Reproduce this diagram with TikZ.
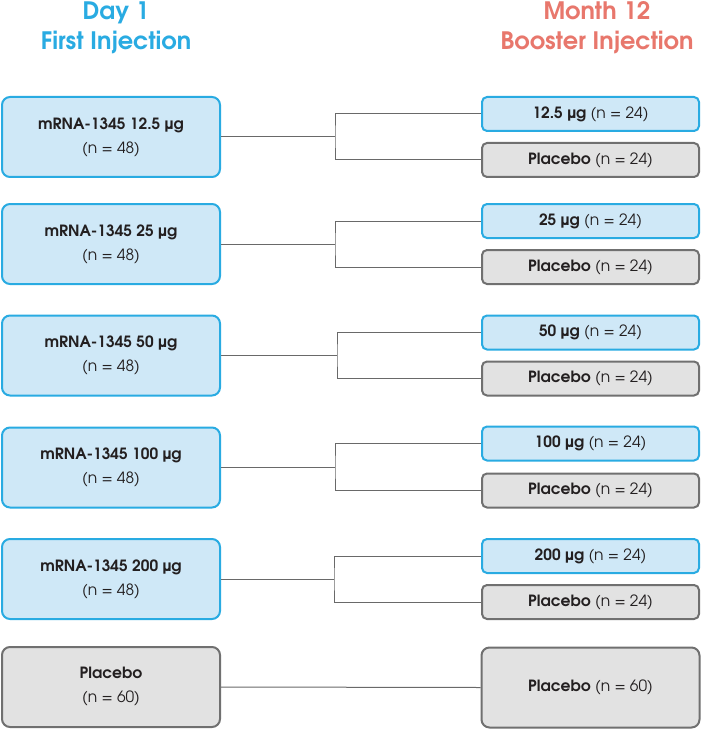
\documentclass[tikz,border=0pt]{standalone}
\usepackage{fontspec}
\setmainfont{texgyreadventor}[Extension=.otf, UprightFont=*-regular, BoldFont=*-bold, ItalicFont=*-italic, BoldItalicFont=*-bolditalic]
\definecolor{tblue}{RGB}{41,171,226}
\definecolor{bfill}{RGB}{207,232,247}
\definecolor{gfill}{RGB}{226,226,226}
\definecolor{gline}{RGB}{112,112,112}
\definecolor{tred}{RGB}{232,119,108}
\definecolor{connc}{RGB}{105,105,105}
\definecolor{txt}{RGB}{35,31,32}
\begin{document}
\begin{tikzpicture}[x=1pt,y=-1pt,
  bigbox/.style={line width=2pt, rounded corners=8pt, minimum width=218pt, minimum height=80pt, inner sep=0pt, align=center, font=\fontsize{15.5}{24}\selectfont, text=txt},
  bigblue/.style={bigbox, draw=tblue, fill=bfill},
  biggray/.style={bigbox, draw=gline, fill=gfill},
  smallbox/.style={line width=2pt, rounded corners=5pt, minimum width=217pt, minimum height=34pt, inner sep=0pt, font=\fontsize{15.5}{18}\selectfont, text=txt},
  smallblue/.style={smallbox, draw=tblue, fill=bfill},
  smallgray/.style={smallbox, draw=gline, fill=gfill},
  conn/.style={draw=connc, line width=1pt},
  ttl/.style={anchor=base, font=\fontsize{24}{28}\selectfont\bfseries}
]
\useasboundingbox (0,0) rectangle (702,730);
\fill[white] (0,0) rectangle (702,730);

\node[ttl, text=tblue] (t1) at (116,20) {Day 1};
\node[ttl, text=tblue] (t2) at (116,49.5) {First Injection};
\node[ttl, text=tred] (t3) at (597,20) {Month 12};
\node[ttl, text=tred] (t4) at (597,49.5) {Booster Injection};

% group 1
\node[bigblue] (L1) at (111,137) {\textbf{mRNA-1345 12.5 µg}\\(n = 48)};
\node[smallblue] (R1a) at (590.5,114) {\textbf{12.5 µg} (n = 24)};
\node[smallgray] (R1b) at (590.5,160) {\textbf{Placebo} (n = 24)};
\coordinate (j1) at (335,137);
\draw[conn] (L1.east) -- (j1);
\draw[conn] (R1a.west) -| (j1) |- (R1b.west);

% group 2
\node[bigblue] (L2) at (111,244) {\textbf{mRNA-1345 25 µg}\\(n = 48)};
\node[smallblue] (R2a) at (590.5,221) {\textbf{25 µg} (n = 24)};
\node[smallgray] (R2b) at (590.5,267) {\textbf{Placebo} (n = 24)};
\coordinate (j2) at (335,244);
\draw[conn] (L2.east) -- (j2);
\draw[conn] (R2a.west) -| (j2) |- (R2b.west);

% group 3
\node[bigblue] (L3) at (111,355.5) {\textbf{mRNA-1345 50 µg}\\(n = 48)};
\node[smallblue] (R3a) at (590.5,332.5) {\textbf{50 µg} (n = 24)};
\node[smallgray] (R3b) at (590.5,378.5) {\textbf{Placebo} (n = 24)};
\coordinate (j3) at (337,355.5);
\draw[conn] (L3.east) -- (j3);
\draw[conn] (R3a.west) -| (j3) |- (R3b.west);

% group 4
\node[bigblue] (L4) at (111,467.5) {\textbf{mRNA-1345 100 µg}\\(n = 48)};
\node[smallblue] (R4a) at (590.5,443.5) {\textbf{100 µg} (n = 24)};
\node[smallgray] (R4b) at (590.5,490.5) {\textbf{Placebo} (n = 24)};
\coordinate (j4) at (335,467.5);
\draw[conn] (L4.east) -- (j4);
\draw[conn] (R4a.west) -| (j4) |- (R4b.west);

% group 5
\node[bigblue] (L5) at (111,579) {\textbf{mRNA-1345 200 µg}\\(n = 48)};
\node[smallblue] (R5a) at (590.5,556) {\textbf{200 µg} (n = 24)};
\node[smallgray] (R5b) at (590.5,602) {\textbf{Placebo} (n = 24)};
\coordinate (j5) at (334,579);
\draw[conn] (L5.east) -- (j5);
\draw[conn] (R5a.west) -| (j5) |- (R5b.west);

% group 6
\node[biggray] (L6) at (111,687) {\textbf{Placebo}\\(n = 60)};
\node[biggray] (R6) at (590.5,687.5) {\textbf{Placebo} (n = 60)};
\draw[conn] (L6.east) -- (R6.west);
\end{tikzpicture}
\end{document}
